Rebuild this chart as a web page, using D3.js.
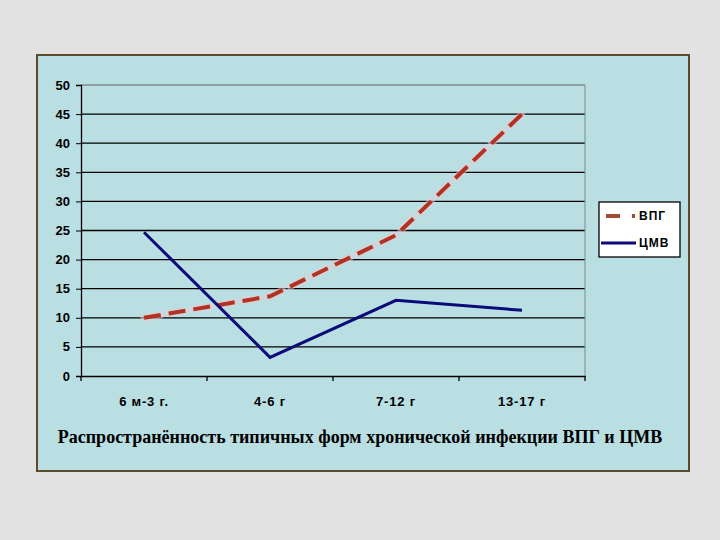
<!DOCTYPE html>
<html>
<head>
<meta charset="utf-8">
<script src="https://cdn.jsdelivr.net/npm/d3@7"></script>
<style>
  body { margin: 0; background: #e2e2e2; }
</style>
</head>
<body>
<div id="main"></div>
<script>
const categories = ["6 м-3 г.", "4-6 г", "7-12 г", "13-17 г"];
const vpg = [10, 13.7, 24.2, 45];
const cmv = [24.7, 3.2, 13, 11.3];
const yTicks = [0, 5, 10, 15, 20, 25, 30, 35, 40, 45, 50];
const seriesNames = ["ВПГ", "ЦМВ"];

const width = 720;
const height = 540;
const margin = { top: 85, right: 135, bottom: 164, left: 81 };
const innerWidth = width - margin.left - margin.right;
const innerHeight = height - margin.top - margin.bottom;

const svg = d3.select("#main").append("svg")
    .attr("width", width)
    .attr("height", height);

// panel
svg.append("rect")
   .attr("x", 37).attr("y", 55)
   .attr("width", 652).attr("height", 416)
   .attr("fill", "#b9dfe3")
   .attr("stroke", "#5b4a2c")
   .attr("stroke-width", 2);

const g = svg.append("g").attr("transform", `translate(${margin.left},${margin.top})`);

const x = d3.scaleBand().domain(categories).range([0, innerWidth]);
const y = d3.scaleLinear().domain([0, 50]).range([innerHeight, 0]);

// gridlines
g.append("g")
 .selectAll("line")
 .data(yTicks.filter(d => d > 0))
 .enter()
 .append("line")
 .attr("x1", 0).attr("x2", innerWidth)
 .attr("y1", d => y(d)).attr("y2", d => y(d))
 .attr("stroke", d => d === 50 ? "#7f8c8c" : "#000")
 .attr("stroke-width", 1.3);

// right edge
g.append("line")
 .attr("x1", innerWidth).attr("x2", innerWidth)
 .attr("y1", 0).attr("y2", innerHeight)
 .attr("stroke", "#7f8c8c");

// y axis (line + ticks from axis, labels drawn separately)
g.append("g")
 .call(d3.axisLeft(y).tickValues(yTicks).tickSize(5))
 .call(s => s.selectAll("text").remove())
 .call(s => s.select(".domain").attr("stroke", "#000").attr("stroke-width", 1.3));
g.append("g")
 .selectAll("text")
 .data(yTicks)
 .enter()
 .append("text")
 .attr("x", -11)
 .attr("y", d => y(d))
 .attr("dy", "0.35em")
 .attr("text-anchor", "end")
 .attr("font-family", "Liberation Sans, Arial, sans-serif")
 .attr("font-weight", "bold").attr("font-size", 13).attr("fill", "#000")
 .text(d => d);

// x axis
const xAxis = g.append("g")
 .attr("transform", `translate(0,${innerHeight})`)
 .call(d3.axisBottom(x).tickSize(0).tickPadding(21))
 .call(s => s.select(".domain").attr("stroke", "#000").attr("stroke-width", 1.3));
xAxis.selectAll("text")
 .attr("font-family", "Liberation Sans, Arial, sans-serif")
 .attr("font-weight", "bold").attr("font-size", 13).attr("fill", "#000")
 .attr("letter-spacing", 0.8);
xAxis.selectAll(".tickmark")
 .data(d3.range(categories.length + 1))
 .enter()
 .append("line")
 .attr("x1", i => i * x.step()).attr("x2", i => i * x.step())
 .attr("y1", 0).attr("y2", 5)
 .attr("stroke", "#000").attr("stroke-width", 1.3);

const line = d3.line()
  .x((d, i) => x(categories[i]) + x.bandwidth() / 2)
  .y(d => y(d));

// VPG glow + dashed
g.append("path")
 .datum(vpg)
 .attr("d", line)
 .attr("fill", "none")
 .attr("stroke", "#efc9cf")
 .attr("stroke-width", 7)
 .attr("stroke-dasharray", "17,8")
 .attr("stroke-linecap", "round")
 .attr("opacity", 0.55);
g.append("path")
 .datum(vpg)
 .attr("d", line)
 .attr("fill", "none")
 .attr("stroke", "#b23324")
 .attr("stroke-width", 4)
 .attr("stroke-dasharray", "17,8");

g.append("path")
 .datum(cmv)
 .attr("d", line)
 .attr("fill", "none")
 .attr("stroke", "#0a0a78")
 .attr("stroke-width", 3)
 .attr("stroke-linejoin", "miter");

// legend
const legend = svg.append("g").attr("transform", "translate(599,202)");
legend.append("rect")
 .attr("width", 81).attr("height", 55)
 .attr("fill", "#fff").attr("stroke", "#000").attr("stroke-width", 1.3);
const items = legend.selectAll(".item")
 .data(seriesNames)
 .enter()
 .append("g")
 .attr("transform", (d, i) => `translate(0,${14 + i * 27})`);
items.append("line")
 .attr("x1", d => d === "ВПГ" ? 7 : 2)
 .attr("x2", 37)
 .attr("y1", 0).attr("y2", 0)
 .attr("stroke", d => d === "ВПГ" ? "#a8493a" : "#0a0a78")
 .attr("stroke-width", d => d === "ВПГ" ? 4 : 3)
 .attr("stroke-dasharray", d => d === "ВПГ" ? "14,12,3,100" : null);
items.append("text")
 .attr("x", 40).attr("y", 0).attr("dy", "0.35em")
 .attr("font-family", "Liberation Sans, Arial, sans-serif")
 .attr("font-weight", "bold")
 .attr("font-size", 12)
 .attr("letter-spacing", 1)
 .text(d => d);

// caption
svg.append("text")
 .attr("x", 360).attr("y", 443)
 .attr("text-anchor", "middle")
 .attr("font-family", "Liberation Serif, Times New Roman, serif")
 .attr("font-weight", "bold")
 .attr("font-size", 18)
 .text("Распространённость  типичных форм хронической инфекции ВПГ и ЦМВ");
</script>
</body>
</html>
